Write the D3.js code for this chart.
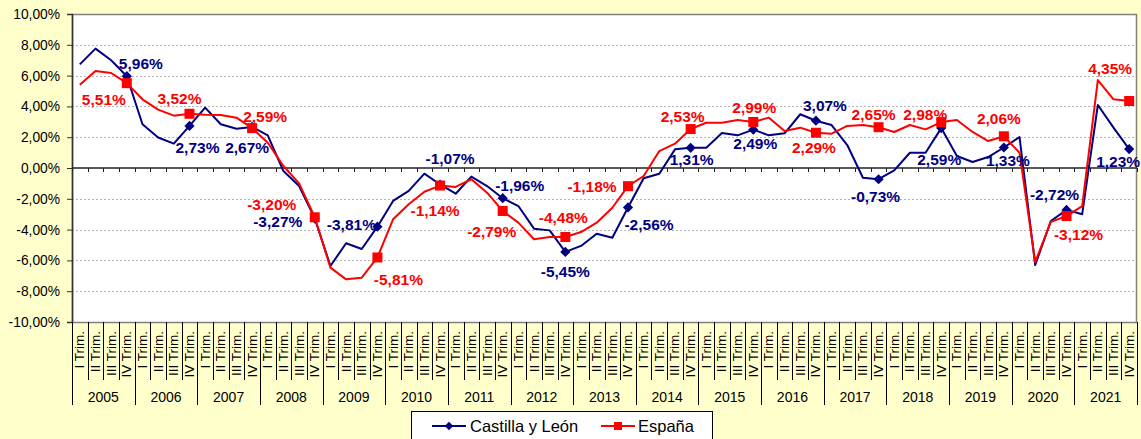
<!DOCTYPE html>
<html><head><meta charset="utf-8">
<script src="https://cdn.jsdelivr.net/npm/d3@7"></script>
<style>
html,body{margin:0;padding:0;background:#FFFFCC;}
svg{display:block;font-family:"Liberation Sans",Arial,sans-serif;}
</style></head>
<body>
<svg id="chart" width="1141" height="439"></svg>
<script>
const years = ["2005","2006","2007","2008","2009","2010","2011","2012","2013","2014","2015","2016","2017","2018","2019","2020","2021"];
const quarterNames = ["I Trim.","II Trim.","III Trim.","IV Trim."];
const yTicks = [-10,-8,-6,-4,-2,0,2,4,6,8,10];
const seriesNames = ["Castilla y León","España"];
const cyl = [
 6.73, 7.75, 7.0, 5.96,
 2.84, 1.98, 1.58, 2.73,
 3.92, 2.84, 2.55, 2.67,
 2.12, -0.2, -1.17, -3.27,
 -6.36, -4.89, -5.26, -3.81,
 -2.14, -1.49, -0.37, -1.07,
 -1.67, -0.56, -1.17, -1.96,
 -2.47, -3.94, -4.05, -5.45,
 -5.06, -4.27, -4.53, -2.56,
 -0.67, -0.37, 1.21, 1.31,
 1.32, 2.27, 2.12, 2.49,
 2.12, 2.25, 3.49, 3.07,
 2.79, 1.49, -0.63, -0.73,
 -0.15, 0.99, 0.99, 2.59,
 0.78, 0.39, 0.71, 1.33,
 2.01, -6.3, -3.44, -2.72,
 -3.0, 4.09, 2.62, 1.23
];
const esp = [
 5.4, 6.3, 6.17, 5.51,
 4.46, 3.79, 3.4, 3.52,
 3.46, 3.44, 3.27, 2.59,
 1.64, 0.13, -1.0, -3.2,
 -6.47, -7.23, -7.12, -5.81,
 -3.33, -2.36, -1.54, -1.14,
 -1.23, -0.73, -1.6, -2.79,
 -3.55, -4.63, -4.48, -4.48,
 -4.16, -3.55, -2.58, -1.18,
 -0.52, 1.1, 1.58, 2.53,
 2.94, 2.94, 3.12, 2.99,
 3.27, 2.4, 2.62, 2.29,
 2.23, 2.73, 2.79, 2.65,
 2.34, 2.79, 2.51, 2.98,
 3.12, 2.34, 1.75, 2.06,
 0.99, -6.1, -3.5, -3.12,
 -2.47, 5.71, 4.46, 4.35
];

// layout: label offsets (px) for each year-end label, relative to the marker
const cylLabelOffsets = [[14,-13],[8,22],[-5,21],[-37,3],[-26,-2],[10,-26],[17,-13],[0,20],[21,17],[1,12],[2,14],[9,-15],[-3,17],[-2,31],[4,13],[-12,-15],[-11,12]];
const espLabelOffsets = [[-23,16],[-10,-15],[13,-12],[-43,-13],[21,22],[-5,25],[-11,21],[-2,-19],[-36,0],[-8,-13],[1,-14],[-2,15],[-5,-13],[-16,-8],[-5,-18],[12,18],[-19,-33]];

(function(){
const W = 1141, H = 439;
const pLeft = 72, pRight = 1137, pTop = 14, pBottom = 322;
const FONT = "'Liberation Sans',Arial,sans-serif";
const svg = d3.select("#chart");
svg.append("rect").attr("width",W).attr("height",H).attr("fill","#FFFFCC");

const n = years.length*4;
const idx = d3.range(n);
const x = d3.scaleBand().domain(idx).range([pLeft,pRight]).padding(0);
const xc = i => x(i) + x.bandwidth()/2;
const y = d3.scaleLinear().domain([-10,10]).range([pBottom,pTop]);
const loc = d3.formatLocale({decimal:",",thousands:".",grouping:[3],currency:["","€"],minus:"-"});
const f2 = loc.format(".2f");
const pct = v => f2(v) + "%";

// plot area
svg.append("rect").attr("x",pLeft).attr("y",pTop).attr("width",pRight-pLeft).attr("height",pBottom-pTop)
  .attr("fill","#ffffff");

// gridlines
svg.append("g").selectAll("line").data(yTicks.filter(v=>v!==0 && Math.abs(v)!==10)).join("line")
  .attr("x1",pLeft).attr("x2",pRight).attr("y1",d=>Math.round(y(d))+0.5).attr("y2",d=>Math.round(y(d))+0.5)
  .attr("stroke","#b4b4b4").attr("stroke-width",1).attr("stroke-dasharray","2,2");

// frame
svg.append("rect").attr("x",pLeft+0.5).attr("y",pTop+0.5).attr("width",pRight-pLeft-1).attr("height",pBottom-pTop)
  .attr("fill","none").attr("stroke","#808080").attr("stroke-width",1.5);

// y axis
const yAxis = d3.axisLeft(y).tickValues(yTicks).tickSize(5).tickFormat(pct);
const ya = svg.append("g").attr("transform",`translate(${pLeft},0)`).call(yAxis);
ya.attr("font-family",FONT);
ya.select(".domain").attr("stroke","#333").attr("stroke-width",1.5);
ya.selectAll(".tick line").attr("stroke","#333");
ya.selectAll(".tick text").attr("font-size",13.8).attr("fill","#000").attr("x",-12);

// zero axis with ticks at category boundaries
const za = svg.append("g");
za.append("line").attr("x1",pLeft).attr("x2",pRight).attr("y1",y(0)).attr("y2",y(0))
  .attr("stroke","#222").attr("stroke-width",1.5);
za.selectAll("line.t").data(d3.range(n+1)).join("line").attr("class","t")
  .attr("x1",i=>Math.round(i<n?x(i):pRight)+0.5).attr("x2",i=>Math.round(i<n?x(i):pRight)+0.5)
  .attr("y1",y(0)).attr("y2",y(0)+4).attr("stroke","#222");

// category labels below
const cat = svg.append("g").attr("font-family",FONT);
cat.selectAll("line.q").data(d3.range(n+1)).join("line").attr("class","q")
  .attr("x1",i=>Math.round(i<n?x(i):pRight)+0.5).attr("x2",i=>Math.round(i<n?x(i):pRight)+0.5)
  .attr("y1",pBottom).attr("y2",i=> i%4===0 ? 405 : 380)
  .attr("stroke","#000").attr("stroke-width",1);
cat.selectAll("text.q").data(idx).join("text").attr("class","q")
  .attr("transform",i=>`translate(${xc(i)+4.5},331) rotate(-90)`)
  .attr("text-anchor","end").attr("font-size",13.5).attr("fill","#000")
  .text(i=>quarterNames[i%4]);
cat.selectAll("text.y").data(years).join("text").attr("class","y")
  .attr("x",(d,k)=> (x(k*4) + (k*4+4<n ? x(k*4+4) : pRight))/2).attr("y",402)
  .attr("text-anchor","middle").attr("font-size",14).attr("fill","#000").text(d=>d);

// lines
const line = d3.line().x((d,i)=>xc(i)).y(d=>y(d));
svg.append("path").datum(cyl).attr("d",line).attr("fill","none").attr("stroke","#000080").attr("stroke-width",2).attr("stroke-linejoin","round");
svg.append("path").datum(esp).attr("d",line).attr("fill","none").attr("stroke","#FF0000").attr("stroke-width",2).attr("stroke-linejoin","round");

const q4 = idx.filter(i=>i%4===3);
const diamond = d3.symbol().type(d3.symbolSquare).size(52);
const square = d3.symbol().type(d3.symbolSquare).size(100);
svg.append("g").selectAll("path").data(q4).join("path")
  .attr("d",diamond).attr("transform",i=>`translate(${xc(i)},${y(cyl[i])}) rotate(45)`).attr("fill","#000080");
svg.append("g").selectAll("path").data(q4).join("path")
  .attr("d",square).attr("transform",i=>`translate(${xc(i)},${y(esp[i])})`).attr("fill","#FF0000");

// labels
const lab = svg.append("g").attr("font-family",FONT);
lab.append("g").selectAll("text").data(q4).join("text")
  .attr("x",(i,k)=>xc(i)+cylLabelOffsets[k][0]).attr("y",(i,k)=>y(cyl[i])+cylLabelOffsets[k][1]+5.5)
  .attr("text-anchor","middle").attr("font-size",15.5).attr("font-weight","bold").attr("fill","#000080")
  .text(i=>pct(cyl[i]));
lab.append("g").selectAll("text").data(q4).join("text")
  .attr("x",(i,k)=>xc(i)+espLabelOffsets[k][0]).attr("y",(i,k)=>y(esp[i])+espLabelOffsets[k][1]+5.5)
  .attr("text-anchor","middle").attr("font-size",15.5).attr("font-weight","bold").attr("fill","#FF0000")
  .text(i=>pct(esp[i]));

// legend
const lg = svg.append("g").attr("font-family",FONT);
lg.append("rect").attr("x",411.5).attr("y",411.5).attr("width",301).attr("height",32)
  .attr("fill","#fff").attr("stroke","#000").attr("stroke-width",1);
const items = [{name:seriesNames[0],color:"#000080",sym:"d",x0:432,tx:470},{name:seriesNames[1],color:"#FF0000",sym:"s",x0:601,tx:638}];
items.forEach(it=>{
  lg.append("line").attr("x1",it.x0).attr("x2",it.x0+34).attr("y1",426).attr("y2",426).attr("stroke",it.color).attr("stroke-width",2);
  lg.append("path").attr("d", it.sym==="d" ? d3.symbol().type(d3.symbolSquare).size(36)() : d3.symbol().type(d3.symbolSquare).size(64)())
    .attr("transform", `translate(${it.x0+17},426)` + (it.sym==="d"?" rotate(45)":"")).attr("fill",it.color);
  lg.append("text").attr("x",it.tx).attr("y",432).attr("font-size",16.5).attr("fill","#000").text(it.name);
});
})();
</script>
</body></html>
